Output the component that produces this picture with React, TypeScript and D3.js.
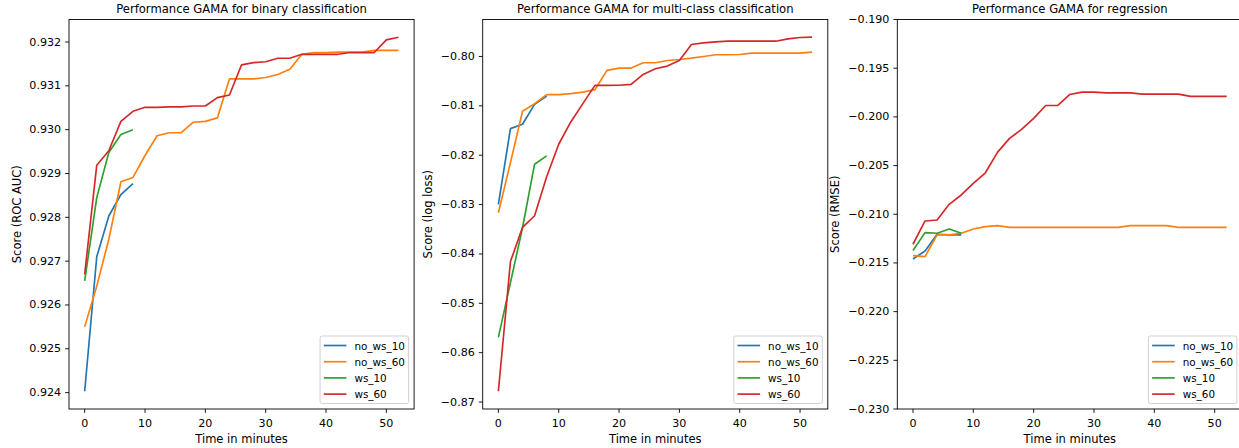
import React from "react";
import * as d3 from "d3";

// minutes at which the score was recorded
const timeLong = [0, 2, 4, 6, 8, 10, 12, 14, 16, 18, 20, 22, 24, 26, 28, 30, 32, 34, 36, 38, 40, 42, 44, 46, 48, 50, 52];
const timeShort = [0, 2, 4, 6, 8];

const seriesNames = ["no_ws_10", "no_ws_60", "ws_10", "ws_60"];
const colors = ["#1f77b4", "#ff7f0e", "#2ca02c", "#d62728"];

// binary classification (ROC AUC)
const binaryNoWs10 = [0.92403, 0.9271, 0.92803, 0.92852, 0.92877];
const binaryNoWs60 = [0.9255, 0.92643, 0.9275, 0.92881, 0.92891, 0.92941, 0.92986, 0.92993, 0.92993, 0.93017, 0.93019, 0.93027, 0.93116, 0.93116, 0.93116, 0.93119, 0.93126, 0.93138, 0.93172, 0.93176, 0.93176, 0.93177, 0.93177, 0.93177, 0.93181, 0.93181, 0.93181];
const binaryWs10 = [0.92655, 0.92845, 0.92948, 0.92989, 0.93];
const binaryWs60 = [0.9267, 0.92919, 0.92952, 0.93019, 0.93042, 0.93051, 0.93051, 0.93052, 0.93052, 0.93054, 0.93054, 0.93073, 0.93079, 0.93148, 0.93153, 0.93155, 0.93163, 0.93163, 0.93172, 0.93172, 0.93172, 0.93172, 0.93176, 0.93176, 0.93176, 0.93205, 0.93211];

// multi-class classification (log loss)
const multiNoWs10 = [-0.82997, -0.81461, -0.81374, -0.8097, -0.80802];
const multiNoWs60 = [-0.83165, -0.8215, -0.81111, -0.80956, -0.80774, -0.80774, -0.80754, -0.80721, -0.80673, -0.80283, -0.80236, -0.80236, -0.80128, -0.80128, -0.80081, -0.80061, -0.80034, -0.8, -0.79966, -0.79966, -0.7996, -0.79933, -0.79933, -0.79933, -0.79933, -0.79933, -0.79913];
const multiWs10 = [-0.85691, -0.8458, -0.83469, -0.82182, -0.82014];
const multiWs60 = [-0.86782, -0.84155, -0.83461, -0.83226, -0.82438, -0.81778, -0.81327, -0.80956, -0.80586, -0.80586, -0.80583, -0.80566, -0.80364, -0.80249, -0.80195, -0.80081, -0.79758, -0.79724, -0.79703, -0.79691, -0.79691, -0.79691, -0.79691, -0.79691, -0.79643, -0.79616, -0.7961];

// regression (RMSE)
const regNoWs10 = [-0.21459, -0.21377, -0.21205, -0.21212, -0.21212];
const regNoWs60 = [-0.21425, -0.21435, -0.21212, -0.21212, -0.21195, -0.21151, -0.21127, -0.21117, -0.21134, -0.21134, -0.21134, -0.21134, -0.21134, -0.21134, -0.21134, -0.21134, -0.21134, -0.21134, -0.21117, -0.21117, -0.21117, -0.21117, -0.21134, -0.21134, -0.21134, -0.21134, -0.21134];
const regWs10 = [-0.21373, -0.21189, -0.21195, -0.21151, -0.21195];
const regWs60 = [-0.21308, -0.21069, -0.21059, -0.20898, -0.20802, -0.20682, -0.20574, -0.20365, -0.20221, -0.20129, -0.20016, -0.19883, -0.19883, -0.1977, -0.19746, -0.19746, -0.19753, -0.19753, -0.19753, -0.19767, -0.19767, -0.19767, -0.19767, -0.1979, -0.1979, -0.1979, -0.1979];

const xTicks = [0, 10, 20, 30, 40, 50];
const binaryTicks = [0.924, 0.925, 0.926, 0.927, 0.928, 0.929, 0.93, 0.931, 0.932];
const multiTicks = [-0.87, -0.86, -0.85, -0.84, -0.83, -0.82, -0.81, -0.8];
const regTicks = [-0.23, -0.225, -0.22, -0.215, -0.21, -0.205, -0.2, -0.195, -0.19];

const font = "DejaVu Sans";
const top = 19.5;
const bottom = 409;
const panelWidth = 345.1;

function withMargin(values: number[]): [number, number] {
  const [lo, hi] = d3.extent(values) as [number, number];
  const m = (hi - lo) * 0.05;
  return [lo - m, hi + m];
}

type Series = { x: number[]; y: number[] };

function Panel({ left, title, yLabel, yLabelX, series, yDomain, yTicks, yFormat }: {
  left: number;
  title: string;
  yLabel: string;
  yLabelX: number;
  series: Series[];
  yDomain: [number, number];
  yTicks: number[];
  yFormat: (v: number) => string;
}) {
  const xScale = d3.scaleLinear().domain(withMargin(timeLong)).range([left, left + panelWidth]);
  const yScale = d3.scaleLinear().domain(yDomain).range([bottom, top]);
  const line = d3
    .line<[number, number]>()
    .x((d) => xScale(d[0]))
    .y((d) => yScale(d[1]));

  const legendW = 88.5;
  const legendH = 67.5;
  const legendX = left + panelWidth - 5.5 - legendW;
  const legendY = bottom - 5.5 - legendH;

  return (
    <g fontFamily={font} fill="#000">
      <text x={left + panelWidth / 2} y={12.5} textAnchor="middle" fontSize={11.6}>
        {title}
      </text>

      {series.map((s, i) => (
        <path
          key={i}
          d={line(s.x.map((t, j) => [t, s.y[j]]) as [number, number][]) || ""}
          fill="none"
          stroke={colors[i]}
          strokeWidth={1.67}
          strokeLinejoin="round"
        />
      ))}

      <rect x={left} y={top} width={panelWidth} height={bottom - top} fill="none" stroke="#000" strokeWidth={0.9} />

      {xTicks.map((t) => (
        <g key={t}>
          <line x1={xScale(t)} x2={xScale(t)} y1={bottom} y2={bottom + 3.9} stroke="#000" strokeWidth={0.9} />
          <text x={xScale(t)} y={426.7} textAnchor="middle" fontSize={11.1}>
            {t}
          </text>
        </g>
      ))}
      <text x={left + panelWidth / 2} y={443} textAnchor="middle" fontSize={11.5}>
        Time in minutes
      </text>

      {yTicks.map((v) => (
        <g key={v}>
          <line x1={left - 3.9} x2={left} y1={yScale(v)} y2={yScale(v)} stroke="#000" strokeWidth={0.9} />
          <text x={left - 7.9} y={yScale(v)} textAnchor="end" dominantBaseline="central" fontSize={11.1}>
            {yFormat(v)}
          </text>
        </g>
      ))}
      <text
        transform={`translate(${yLabelX}, ${(top + bottom) / 2}) rotate(-90)`}
        textAnchor="middle"
        dominantBaseline="central"
        fontSize={11.5}
      >
        {yLabel}
      </text>

      <rect
        x={legendX}
        y={legendY}
        width={legendW}
        height={legendH}
        rx={2}
        fill="#fff"
        fillOpacity={0.8}
        stroke="#cccccc"
        strokeWidth={0.9}
      />
      {seriesNames.map((name, i) => {
        const cy = legendY + 9.5 + i * 16.2;
        return (
          <g key={name}>
            <line x1={legendX + 3.7} x2={legendX + 26.3} y1={cy} y2={cy} stroke={colors[i]} strokeWidth={1.67} />
            <text x={legendX + 34.3} y={cy} dominantBaseline="central" fontSize={10.4}>
              {name}
            </text>
          </g>
        );
      })}
    </g>
  );
}

export default function App() {
  const binary: Series[] = [
    { x: timeShort, y: binaryNoWs10 },
    { x: timeLong, y: binaryNoWs60 },
    { x: timeShort, y: binaryWs10 },
    { x: timeLong, y: binaryWs60 },
  ];
  const multi: Series[] = [
    { x: timeShort, y: multiNoWs10 },
    { x: timeLong, y: multiNoWs60 },
    { x: timeShort, y: multiWs10 },
    { x: timeLong, y: multiWs60 },
  ];
  const reg: Series[] = [
    { x: timeShort, y: regNoWs10 },
    { x: timeLong, y: regNoWs60 },
    { x: timeShort, y: regWs10 },
    { x: timeLong, y: regWs60 },
  ];

  const f3 = d3.format(".3f");
  const f2 = d3.format(".2f");

  return (
    <svg width={1239} height={448} style={{ position: "absolute", left: 0, top: 0, background: "#fff" }}>
      <Panel
        left={69}
        title="Performance GAMA for binary classification"
        yLabel="Score (ROC AUC)"
        yLabelX={16.7}
        series={binary}
        yDomain={withMargin(binary.flatMap((s) => s.y))}
        yTicks={binaryTicks}
        yFormat={f3}
      />
      <Panel
        left={482.7}
        title="Performance GAMA for multi-class classification"
        yLabel="Score (log loss)"
        yLabelX={428}
        series={multi}
        yDomain={withMargin(multi.flatMap((s) => s.y))}
        yTicks={multiTicks}
        yFormat={f2}
      />
      <Panel
        left={897.3}
        title="Performance GAMA for regression"
        yLabel="Score (RMSE)"
        yLabelX={835}
        series={reg}
        yDomain={[-0.23, -0.19]}
        yTicks={regTicks}
        yFormat={f3}
      />
    </svg>
  );
}
